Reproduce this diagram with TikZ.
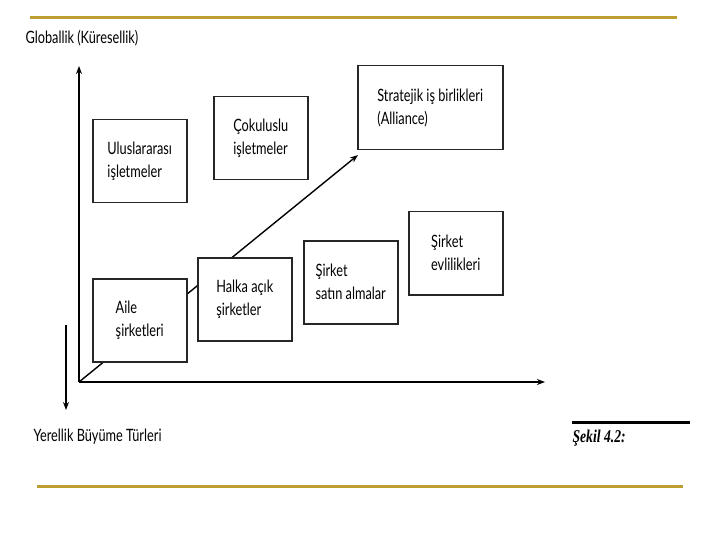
\documentclass[tikz,border=0pt]{standalone}
\usepackage{fontspec}
\setmainfont{Lato}[FakeStretch=0.75]
\newfontfamily\figfont{Liberation Serif}[FakeStretch=0.76]
\usetikzlibrary{arrows.meta}
\definecolor{rulegold}{RGB}{190,158,48}

\begin{document}
\begin{tikzpicture}[
    x=1pt,
    y=-1pt,
    >={Stealth[length=8pt,width=6pt]},
    stage/.style={draw=black!85,line width=1.5pt,fill=white,align=left,
      inner sep=0pt,minimum width=94pt,minimum height=83pt,anchor=north west,
      font=\fontsize{17}{23}\selectfont},
    axis/.style={->,line width=1.6pt},
    axislabel/.style={font=\fontsize{17}{20}\selectfont,anchor=west}
  ]
    \useasboundingbox (0,0) rectangle (720,540);

    % slide rules
    \draw[rulegold,line width=3pt] (30,18) -- (677,18);
    \draw[rulegold,line width=3pt] (37,486) -- (683,486);

    % axes
    \coordinate (origin) at (79,382);
    \coordinate (ytip) at (79,66);
    \coordinate (xtip) at (545,382);
    \coordinate (growtip) at (358,155);
    \coordinate (downtop) at (66,325);
    \coordinate (downtip) at (66,410);
    \draw[axis] (origin) -- (ytip);
    \draw[axis] (origin) -- (xtip);
    \draw[axis,line width=1.2pt] (downtop) -- (downtip);
    \draw[->,line width=1.4pt] (origin) -- (growtip);

    \node[axislabel] (global) at (22,38) {Globallik (Küresellik)};
    \node[axislabel] (local) at (30,437) {Yerellik Büyüme Türleri};

    % growth types
    \node[stage] (intl) at (92,119) {Uluslararası\\işletmeler};
    \node[stage] (multi) at (213,96) {Çokuluslu\\işletmeler};
    \node[stage,minimum width=145pt,minimum height=84pt] (alliance) at (357,65)
      {Stratejik iş birlikleri\\(Alliance)};
    \node[stage] (family) at (92,278) {Aile\\şirketleri};
    \node[stage] (public) at (197,257) {Halka açık\\şirketler};
    \node[stage] (acquire) at (303,240) {Şirket\\satın almalar};
    \node[stage] (merger) at (408,211) {Şirket\\evlilikleri};

    % caption
    \draw[line width=3pt] (572,422) -- (690,422);
    \node[anchor=west,font=\figfont\fontsize{18}{20}\selectfont\bfseries\itshape]
      (caption) at (569,438) {Şekil 4.2:};
  \end{tikzpicture}
\end{document}
